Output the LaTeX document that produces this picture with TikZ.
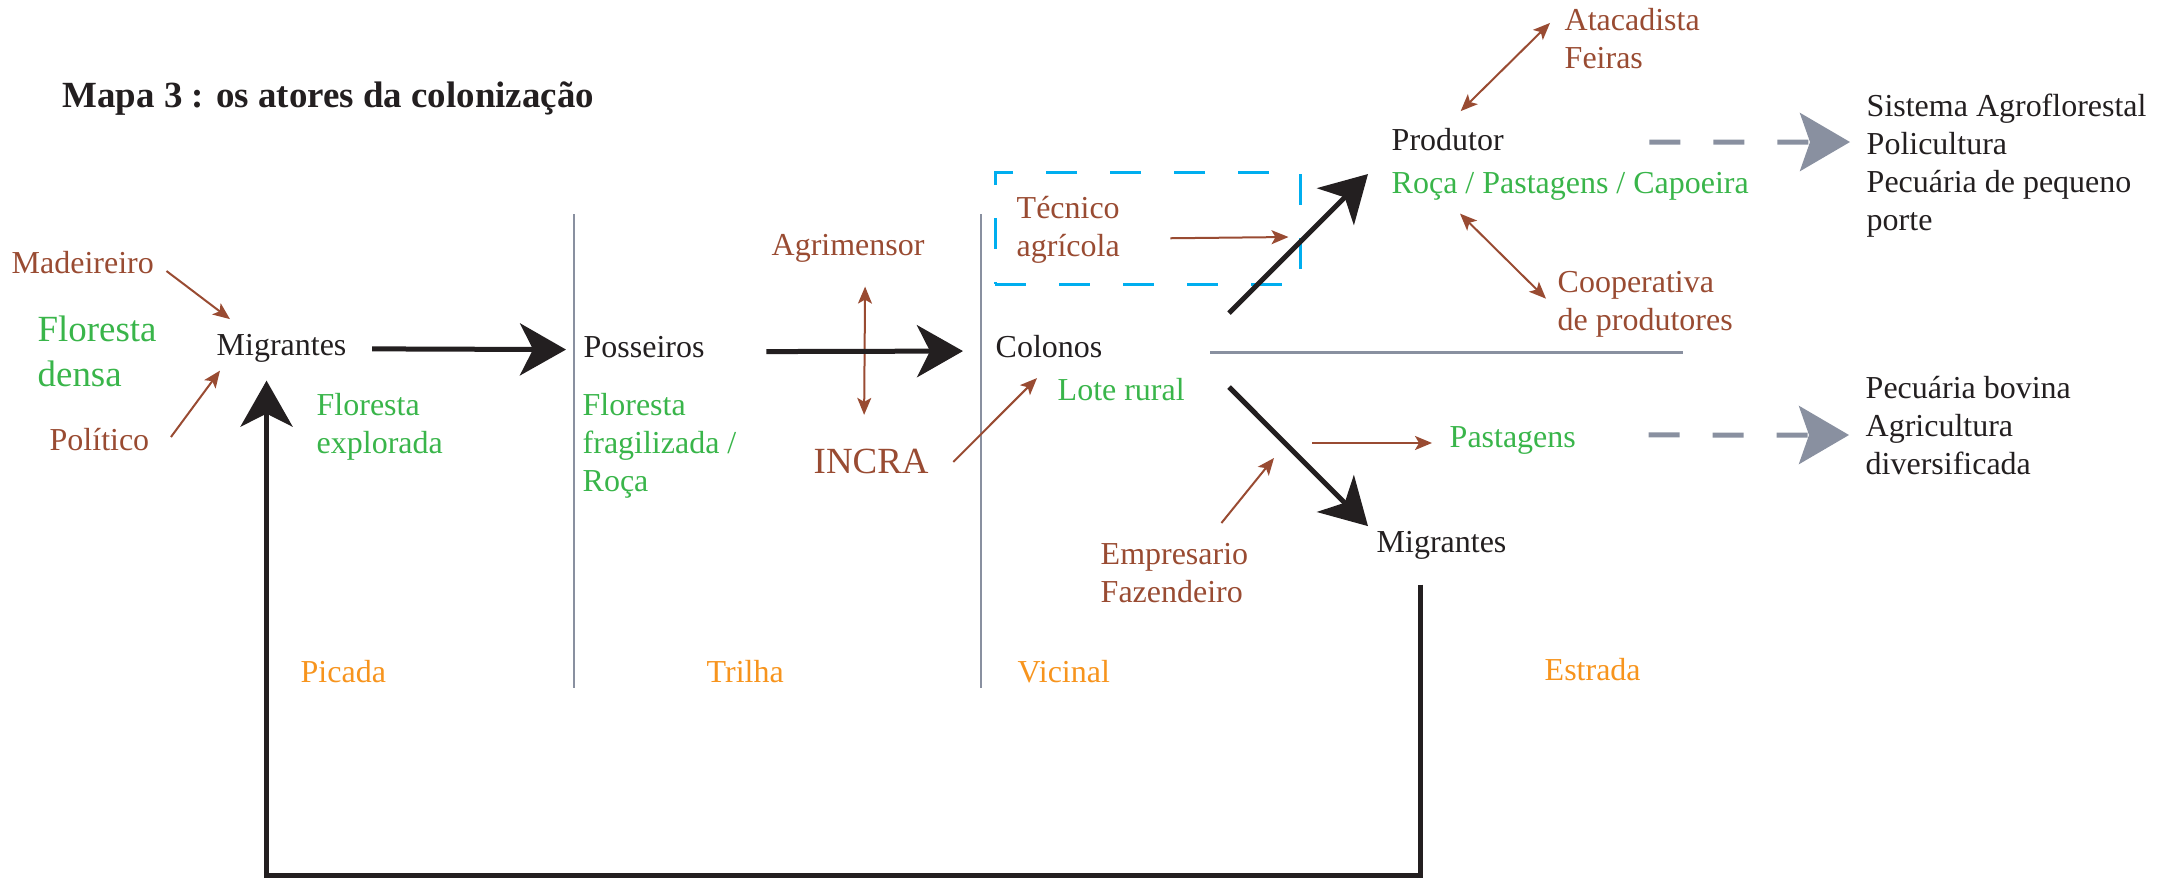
\documentclass[tikz,border=0pt]{standalone}
\usepackage{fontspec}
\setmainfont{Liberation Serif}
\usetikzlibrary{arrows.meta, calc}

\definecolor{ink}{RGB}{35,31,32}
\definecolor{actor}{RGB}{153,75,50}
\definecolor{land}{RGB}{57,181,74}
\definecolor{track}{RGB}{247,148,29}
\definecolor{roadgray}{RGB}{137,144,160}
\definecolor{sky}{RGB}{0,174,239}

\tikzset{
    txt/.style={inner sep=0pt, anchor=base west, text=ink, font=\fontsize{9.1}{10.8}\selectfont},
    block/.style={txt, anchor=north west, align=left},
    big/.style={font=\fontsize{10.5}{12.8}\selectfont},
    bigarrow/.style={draw=ink, line width=0.5mm, -{Stealth[length=4.6mm, width=5.2mm, inset=1.3mm]}},
    actorarrow/.style={draw=actor, line width=0.2mm, -{Stealth[length=1.7mm, width=1.4mm, inset=0.4mm]}},
    actorboth/.style={draw=actor, line width=0.2mm, {Stealth[length=1.7mm, width=1.4mm, inset=0.4mm]}-{Stealth[length=1.7mm, width=1.4mm, inset=0.4mm]}},
    futurearrow/.style={draw=roadgray, line width=0.5mm, dash pattern=on 3.1mm off 3.3mm, -{Stealth[length=5mm, width=5.8mm, inset=1mm]}},
    road/.style={draw=roadgray, line width=0.2mm},
    tecbox/.style={draw=sky, line width=0.3mm, dash pattern=on 3.1mm off 3.3mm, inner sep=0pt, minimum width=30.5mm, minimum height=11.2mm}
}

\begin{document}
\begin{tikzpicture}[x=0.1mm, y=-0.1mm]
    \useasboundingbox (0,0) rectangle (2161,879);

    \node[txt, font=\fontsize{10.5}{12}\selectfont\bfseries] (title) at (62,107) {Mapa 3 : os atores da colonização};

    \node[txt, text=actor] (madeir) at (11,273) {Madeireiro};
    \node[block, big, text=land] (floresta) at (37,315) {Floresta\\densa};
    \node[txt] (migr1) at (216,355) {Migrantes};
    \node[txt, text=actor] (politico) at (49,450) {Político};
    \node[block, text=land] (florexp) at (316,393) {Floresta\\explorada};

    \node[txt] (posse) at (583,357) {Posseiros};
    \node[block, text=land] (florfrag) at (582,393) {Floresta\\fragilizada /\\Roça};
    \node[txt, text=actor] (agrim) at (771,255) {Agrimensor};
    \node[txt, big, text=actor] (incra) at (813,473) {INCRA};

    \node[txt] (colonos) at (995,357) {Colonos};
    \node[txt, text=land] (lote) at (1057,400) {Lote rural};
    \node[tecbox] (tecbox) at (1147.5,228) {};
    \node[block, text=actor] (tecnico) at (1016,196) {Técnico\\agrícola};

    \node[txt] (produtor) at (1391,150) {Produtor};
    \node[txt, text=land] (roca) at (1391,193) {Roça / Pastagens / Capoeira};
    \node[block, text=actor] (atac) at (1564,8) {Atacadista\\Feiras};
    \node[block, text=actor] (coop) at (1557,271) {Cooperativa\\de produtores};
    \node[block] (sistema) at (1866,93) {Sistema Agroflorestal\\Policultura\\Pecuária de pequeno\\porte};

    \node[txt, text=land] (pastagens) at (1449,447) {Pastagens};
    \node[block] (pecuaria) at (1865,376) {Pecuária bovina\\Agricultura\\diversificada};
    \node[txt] (migr2) at (1376,552) {Migrantes};
    \node[block, text=actor] (empres) at (1100,543) {Empresario\\Fazendeiro};

    \node[txt, text=track] (picada) at (300,682) {Picada};
    \node[txt, text=track] (trilha) at (706,682) {Trilha};
    \node[txt, text=track] (vicinal) at (1017,682) {Vicinal};
    \node[txt, text=track] (estrada) at (1544,680) {Estrada};

    \draw[road] (574,214) -- (574,688);
    \draw[road] (981,214) -- (981,688);
    \draw[road, line width=0.3mm] ($(colonos.east)+(107,6)$) -- ++(473,0);

    \draw[actorarrow] ($(madeir.south east)+(12,-3)$) -- ($(migr1.north west)+(14,-14)$);
    \draw[actorarrow] ($(politico.east)+(21,-2)$) -- ($(migr1.south west)+(4,8)$);
    \draw[actorboth] ($(agrim.south)+(17,24)$) -- ($(incra.north)+(-7,-33)$);
    \draw[actorarrow] ($(incra.east)+(24,1)$) -- ($(lote.west)+(-20,-11)$);
    \draw[actorarrow] ($(tecnico.east)+(50,8)$) -- ($(tecbox.east)+(-13,9)$);
    \draw[actorarrow] ($(empres.north)+(47,-20)$) -- ($(pastagens.west)+(-175,18)$);
    \draw[actorarrow] ($(pastagens.west)+(-137,3)$) -- ($(pastagens.west)+(-17,3)$);
    \draw[actorboth] ($(produtor.north)+(13,-16)$) -- ($(atac.west)+(-14,-16)$);
    \draw[actorboth] ($(roca.south west)+(69,13)$) -- ($(coop.west)+(-11,-6)$);

    \draw[bigarrow] ($(migr1.east)+(25,1)$) -- ($(posse.west)+(-17,3)$);
    \draw[bigarrow] ($(posse.east)+(61,5)$) -- ($(colonos.west)+(-32,5)$);
    \draw[bigarrow] ($(colonos.east)+(126,-33)$) -- ($(produtor.south west)+(-23,23)$);
    \draw[bigarrow] ($(colonos.east)+(126,41)$) -- ($(migr2.north west)+(-8,-4)$);
    \draw[bigarrow] ($(migr2.south)+(-21,25)$) -- ++(0,291) -| ($(migr1.south)+(-15,18)$);

    \draw[futurearrow] ($(produtor.east)+(145,3)$) -- ($(sistema.north west)+(-16,49)$);
    \draw[futurearrow] ($(pastagens.east)+(72,-5)$) -- ($(pecuaria.north west)+(-16,59)$);

\end{tikzpicture}
\end{document}
